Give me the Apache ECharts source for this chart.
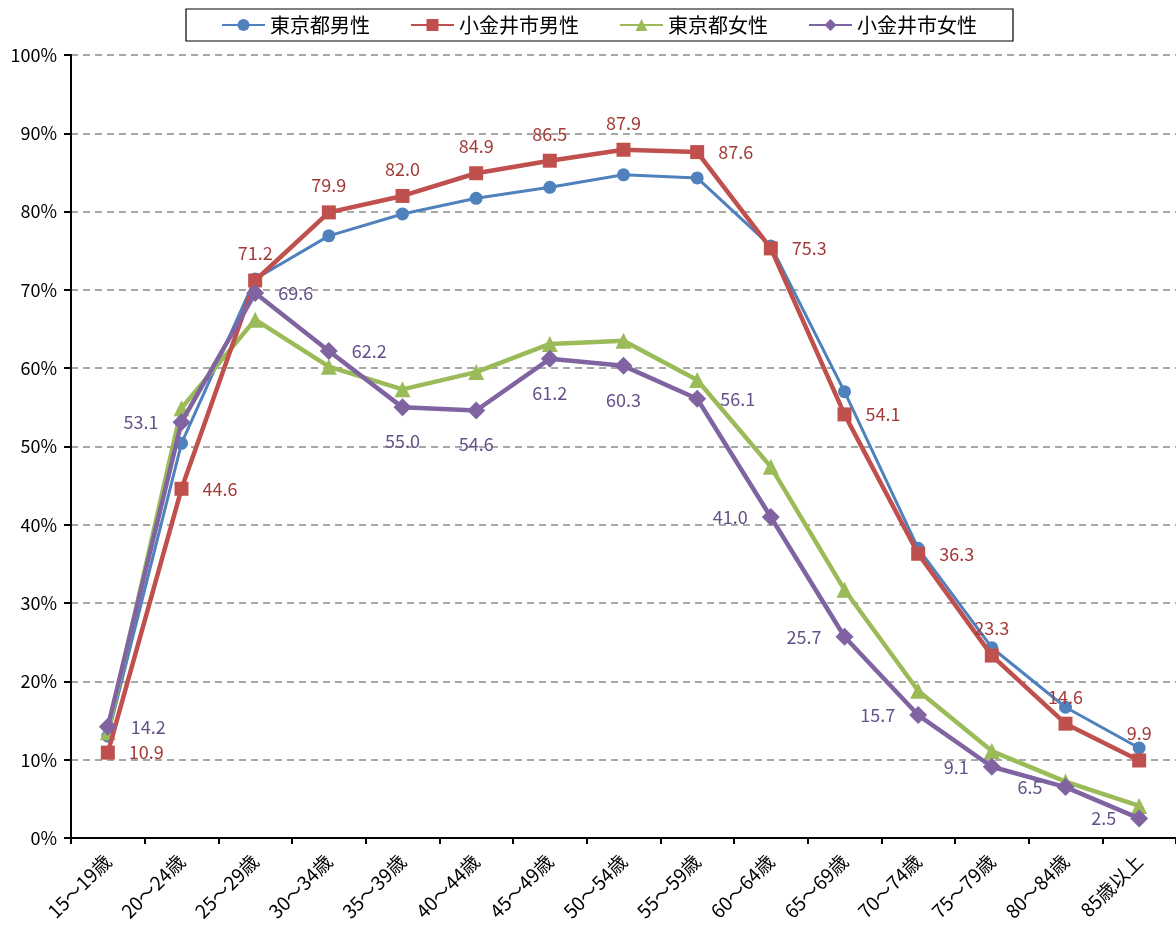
<!DOCTYPE html>
<html>
<head>
<meta charset="utf-8">
<script src="https://cdn.jsdelivr.net/npm/echarts@6/dist/echarts.min.js"></script>
<style>
html,body{margin:0;padding:0;background:#fff;}
#chart{width:1176px;height:926px;}
</style>
</head>
<body>
<div id="chart"></div>
<script>
// Age groups
const categories = ['15～19歳','20～24歳','25～29歳','30～34歳','35～39歳','40～44歳','45～49歳','50～54歳','55～59歳','60～64歳','65～69歳','70～74歳','75～79歳','80～84歳','85歳以上'];
const yTicks = [0,10,20,30,40,50,60,70,80,90,100];

// Labour force participation rate (%)
const tokyoMale     = [13.0, 50.4, 71.4, 76.9, 79.7, 81.7, 83.1, 84.7, 84.3, 75.6, 57.0, 37.0, 24.3, 16.7, 11.5];
const koganeiMale   = [10.9, 44.6, 71.2, 79.9, 82.0, 84.9, 86.5, 87.9, 87.6, 75.3, 54.1, 36.3, 23.3, 14.6, 9.9];
const tokyoFemale   = [13.5, 54.9, 66.2, 60.2, 57.3, 59.5, 63.1, 63.5, 58.5, 47.4, 31.7, 18.8, 11.1, 7.2, 4.1];
const koganeiFemale = [14.2, 53.1, 69.6, 62.2, 55.0, 54.6, 61.2, 60.3, 56.1, 41.0, 25.7, 15.7, 9.1, 6.5, 2.5];

// Where each value label sits relative to its marker
const koganeiMaleLabelPos   = ['right','right','top','top','top','top','top','top','right','right','right','right','top','top','top'];
const koganeiFemaleLabelPos = ['right','left','right','right','bottom','bottom','bottom','bottom','right','left','left','left','left','left','left'];

const FONT = '"Noto Sans CJK JP", "Noto Sans", sans-serif';

function labelled(values, positions, color) {
  return values.map((v, i) => ({
    value: v,
    label: {
      show: true,
      position: positions[i],
      distance: positions[i] === 'bottom' ? 16 : (positions[i] === 'top' ? 11 : 14),
      formatter: (p) => p.value.toFixed(1),
      color: color,
      fontSize: 18,
      fontFamily: FONT
    }
  }));
}

const chart = echarts.init(document.getElementById('chart'));
chart.setOption({
  animation: false,
  backgroundColor: '#fff',
  legend: {
    top: 9,
    left: 186,
    padding: [6, 36, 6, 35],
    borderColor: '#000',
    borderWidth: 1.2,
    itemWidth: 43,
    itemHeight: 15,
    itemGap: 40,
    textStyle: { fontSize: 20, color: '#000', fontFamily: FONT },
    data: ['東京都男性','小金井市男性','東京都女性','小金井市女性']
  },
  grid: { left: 71, right: 0, top: 55, bottom: 88, containLabel: false },
  xAxis: {
    type: 'category',
    data: categories,
    boundaryGap: true,
    axisLine: { lineStyle: { color: '#000', width: 2 } },
    axisTick: { show: true, alignWithLabel: false, length: 6, lineStyle: { color: '#000', width: 2 } },
    axisLabel: { rotate: 45, fontSize: 19, color: '#000', fontFamily: FONT, margin: 20, interval: 0 },
    splitLine: { show: false }
  },
  yAxis: {
    type: 'value',
    min: yTicks[0],
    max: yTicks[yTicks.length - 1],
    interval: 10,
    axisLine: { show: true, lineStyle: { color: '#000', width: 2 } },
    axisTick: { show: true, length: 7, inside: false, lineStyle: { color: '#000', width: 2 } },
    axisLabel: { formatter: '{value}%', fontSize: 18, color: '#000', fontFamily: FONT, margin: 14 },
    splitLine: { show: true, lineStyle: { color: '#8c8c8c', type: [7, 5], width: 1.5 } }
  },
  series: [
    {
      name: '東京都男性', type: 'line', data: tokyoMale,
      symbol: 'circle', symbolSize: 13,
      lineStyle: { color: '#4F81BD', width: 3 },
      itemStyle: { color: '#4F81BD' },
      z: 2
    },
    {
      name: '小金井市男性', type: 'line',
      data: labelled(koganeiMale, koganeiMaleLabelPos, '#A33C38'),
      symbol: 'rect', symbolSize: 14,
      lineStyle: { color: '#C0504D', width: 4.5 },
      itemStyle: { color: '#C0504D' },
      z: 3
    },
    {
      name: '東京都女性', type: 'line', data: tokyoFemale,
      symbol: 'triangle', symbolSize: 16,
      lineStyle: { color: '#9BBB59', width: 4.5 },
      itemStyle: { color: '#9BBB59' },
      z: 2
    },
    {
      name: '小金井市女性', type: 'line',
      data: labelled(koganeiFemale, koganeiFemaleLabelPos, '#65508A'),
      symbol: 'diamond', symbolSize: 18,
      lineStyle: { color: '#8064A2', width: 4.5 },
      itemStyle: { color: '#8064A2' },
      z: 4
    }
  ]
});
</script>
</body>
</html>
